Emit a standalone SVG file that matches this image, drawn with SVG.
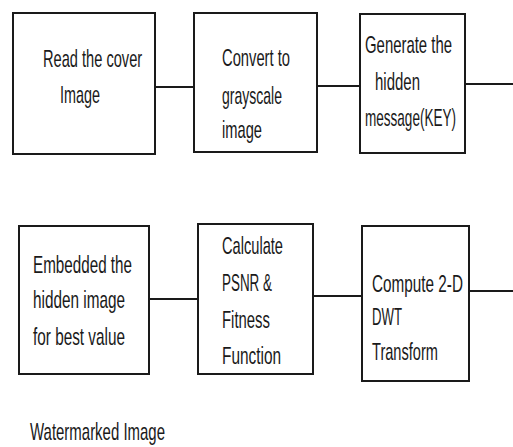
<svg xmlns="http://www.w3.org/2000/svg" width="513" height="447" viewBox="0 0 513 447">
<style>
.box{fill:#fff;stroke:#1a1a1a;stroke-width:2}
.c{stroke:#1a1a1a;stroke-width:2;fill:none}
text{font-family:"Liberation Sans",Arial,sans-serif;font-size:24px;fill:#1a1a1a}
</style>
<rect width="513" height="447" fill="#fff"/>
<g id="connectors">
<line class="c" x1="155" y1="87" x2="194" y2="87"/>
<line class="c" x1="317" y1="86" x2="360" y2="86"/>
<line class="c" x1="465" y1="84" x2="513" y2="84"/>
<line class="c" x1="149" y1="299" x2="198" y2="299"/>
<line class="c" x1="313" y1="296" x2="362" y2="296"/>
<line class="c" x1="469" y1="291" x2="513" y2="291"/>
</g>
<g id="n1">
<rect class="box" x="13" y="13" width="142" height="141"/>
<text transform="translate(43,67) scale(0.62,1)" textLength="160" lengthAdjust="spacingAndGlyphs">Read the cover</text>
<text transform="translate(60,103) scale(0.62,1)" textLength="64.5" lengthAdjust="spacingAndGlyphs">Image</text>
</g>
<g id="n2">
<rect class="box" x="194" y="13" width="123" height="139"/>
<text transform="translate(222,66) scale(0.62,1)" textLength="109.7" lengthAdjust="spacingAndGlyphs">Convert to</text>
<text transform="translate(222,104) scale(0.62,1)" textLength="96.8" lengthAdjust="spacingAndGlyphs">grayscale</text>
<text transform="translate(222,138) scale(0.62,1)" textLength="64.5" lengthAdjust="spacingAndGlyphs">image</text>
</g>
<g id="n3">
<rect class="box" x="360" y="14" width="105" height="139"/>
<text transform="translate(365,53) scale(0.62,1)" textLength="140.3" lengthAdjust="spacingAndGlyphs">Generate the</text>
<text transform="translate(375,90) scale(0.62,1)" textLength="72.6" lengthAdjust="spacingAndGlyphs">hidden</text>
<text transform="translate(365,126) scale(0.62,1)" textLength="146.8" lengthAdjust="spacingAndGlyphs">message(KEY)</text>
</g>
<g id="n4">
<rect class="box" x="19" y="226" width="130" height="148"/>
<text transform="translate(33,273) scale(0.62,1)" textLength="159.7" lengthAdjust="spacingAndGlyphs">Embedded the</text>
<text transform="translate(33,308) scale(0.62,1)" textLength="148.4" lengthAdjust="spacingAndGlyphs">hidden image</text>
<text transform="translate(33,345) scale(0.62,1)" textLength="148.4" lengthAdjust="spacingAndGlyphs">for best value</text>
</g>
<g id="n5">
<rect class="box" x="198" y="224" width="115" height="150"/>
<text transform="translate(222,254) scale(0.62,1)" textLength="98.4" lengthAdjust="spacingAndGlyphs">Calculate</text>
<text transform="translate(222,291) scale(0.62,1)" textLength="80.6" lengthAdjust="spacingAndGlyphs">PSNR &amp;</text>
<text transform="translate(222,328) scale(0.62,1)" textLength="77.4" lengthAdjust="spacingAndGlyphs">Fitness</text>
<text transform="translate(222,364) scale(0.62,1)" textLength="95.2" lengthAdjust="spacingAndGlyphs">Function</text>
</g>
<g id="n6">
<rect class="box" x="362" y="226" width="107" height="155"/>
<text transform="translate(372,292) scale(0.62,1)" textLength="146.8" lengthAdjust="spacingAndGlyphs">Compute 2-D</text>
<text transform="translate(372,325) scale(0.62,1)" textLength="48.4" lengthAdjust="spacingAndGlyphs">DWT</text>
<text transform="translate(372,360) scale(0.62,1)" textLength="106.5" lengthAdjust="spacingAndGlyphs">Transform</text>
</g>
<g id="label">
<text transform="translate(30,440) scale(0.62,1)" textLength="217.7" lengthAdjust="spacingAndGlyphs">Watermarked Image</text>
</g>
</svg>
